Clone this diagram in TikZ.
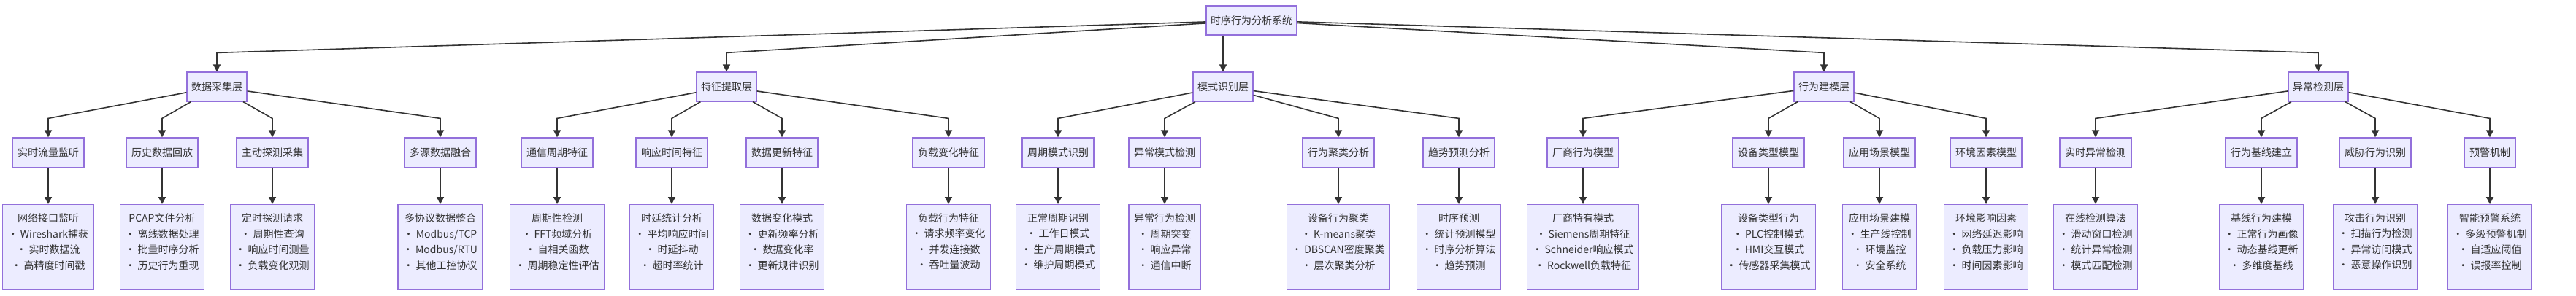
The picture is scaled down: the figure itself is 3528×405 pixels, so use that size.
\documentclass[tikz,border=0pt]{standalone}
\usepackage{fontspec}
\setmainfont{Noto Sans CJK SC}
\usetikzlibrary{arrows.meta}
\definecolor{nfill}{HTML}{ECECFF}
\definecolor{nline}{HTML}{9370DB}
\definecolor{eline}{HTML}{333333}
\begin{document}
\begin{tikzpicture}[x=1pt,y=-1pt,
  box/.style={draw=nline,fill=nfill,line width=1.2pt,text=eline,font=\fontsize{14}{21.5}\selectfont,align=center},
  top/.style={box,minimum height=40pt,inner xsep=6pt},
  mid/.style={box,minimum height=41pt,inner xsep=7pt},
  leaf/.style={box,anchor=north,minimum height=117pt,inner xsep=7pt,inner ysep=8pt},
  arr/.style={draw=eline,line width=1.6pt,-{Triangle[length=10pt,width=10pt]}}]
\useasboundingbox[fill=white] (0,0) rectangle (3528,405);
\node[top] (root) at (1714,28) {时序行为分析系统};
\node[top] (L1) at (297,119) {数据采集层};
\node[top] (L2) at (995,119) {特征提取层};
\node[top] (L3) at (1675,119) {模式识别层};
\node[top] (L4) at (2498,119) {行为建模层};
\node[top] (L5) at (3175,119) {异常检测层};
\draw[arr] (root) -- ([yshift=26pt]L1.north) -- (L1.north);
\draw[arr] (root) -- ([yshift=26pt]L2.north) -- (L2.north);
\draw[arr] (root.south -| L3.north) -- (L3.north);
\draw[arr] (root) -- ([yshift=26pt]L4.north) -- (L4.north);
\draw[arr] (root) -- ([yshift=26pt]L5.north) -- (L5.north);
\foreach \id/\x/\p/\t/\l in {
 a1/66/L1/实时流量监听/{网络接口监听\\• Wireshark捕获\\• 实时数据流\\• 高精度时间戳},
 a2/222/L1/历史数据回放/{PCAP文件分析\\• 离线数据处理\\• 批量时序分析\\• 历史行为重现},
 a3/373/L1/主动探测采集/{定时探测请求\\• 周期性查询\\• 响应时间测量\\• 负载变化观测},
 a4/603/L1/多源数据融合/{多协议数据整合\\• Modbus/TCP\\• Modbus/RTU\\• 其他工控协议},
 b1/763/L2/通信周期特征/{周期性检测\\• FFT频域分析\\• 自相关函数\\• 周期稳定性评估},
 b2/920/L2/响应时间特征/{时延统计分析\\• 平均响应时间\\• 时延抖动\\• 超时率统计},
 b3/1071/L2/数据更新特征/{数据变化模式\\• 更新频率分析\\• 数据变化率\\• 更新规律识别},
 b4/1299/L2/负载变化特征/{负载行为特征\\• 请求频率变化\\• 并发连接数\\• 吞吐量波动},
 c1/1449/L3/周期模式识别/{正常周期识别\\• 工作日模式\\• 生产周期模式\\• 维护周期模式},
 c2/1595/L3/异常模式检测/{异常行为检测\\• 周期突变\\• 响应异常\\• 通信中断},
 c3/1833/L3/行为聚类分析/{设备行为聚类\\• K-means聚类\\• DBSCAN密度聚类\\• 层次聚类分析},
 c4/1998/L3/趋势预测分析/{时序预测\\• 统计预测模型\\• 时序分析算法\\• 趋势预测},
 d1/2168/L4/厂商行为模型/{厂商特有模式\\• Siemens周期特征\\• Schneider响应模式\\• Rockwell负载特征},
 d2/2422/L4/设备类型模型/{设备类型行为\\• PLC控制模式\\• HMI交互模式\\• 传感器采集模式},
 d3/2574/L4/应用场景模型/{应用场景建模\\• 生产线控制\\• 环境监控\\• 安全系统},
 d4/2720/L4/环境因素模型/{环境影响因素\\• 网络延迟影响\\• 负载压力影响\\• 时间因素影响},
 e1/2870/L5/实时异常检测/{在线检测算法\\• 滑动窗口检测\\• 统计异常检测\\• 模式匹配检测},
 e2/3097/L5/行为基线建立/{基线行为建模\\• 正常行为画像\\• 动态基线更新\\• 多维度基线},
 e3/3253/L5/威胁行为识别/{攻击行为识别\\• 扫描行为检测\\• 异常访问模式\\• 恶意操作识别},
 e4/3410/L5/预警机制/{智能预警系统\\• 多级预警机制\\• 自适应阈值\\• 误报率控制}}{
  \node[mid] (\id) at (\x,209.5) {\t};
  \node[leaf] (\id x) at (\x,280) {\l\\[-5pt]\mbox{}};
  \draw[arr] (\p) -- ([yshift=26pt]\id.north) -- (\id.north);
  \draw[arr] (\id) -- (\id x);
}
\end{tikzpicture}
\end{document}
